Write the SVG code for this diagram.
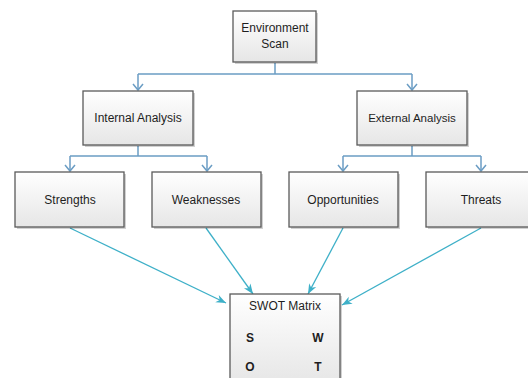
<svg xmlns="http://www.w3.org/2000/svg" width="528" height="378" viewBox="0 0 528 378">
<style>
.box{fill:url(#g);stroke:#5a5a5a;stroke-width:1.3}
.sh{fill:#000;opacity:0.18}
.t{font-family:"Liberation Sans",Arial,sans-serif;font-size:12px;fill:#1e1e1e;text-anchor:middle}
.b{font-weight:bold}
.tree{fill:none;stroke:#6b9dc4;stroke-width:1.5}
.diag{fill:none;stroke:#3eb0c8;stroke-width:1.3}
</style>
<defs>
<linearGradient id="g" x1="0" y1="0" x2="0" y2="1">
<stop offset="0" stop-color="#ffffff"/>
<stop offset="1" stop-color="#e6e6e6"/>
</linearGradient>
<marker id="v" markerWidth="12" markerHeight="14" viewBox="-8 -7 10 14" refX="0" refY="0" orient="auto" markerUnits="userSpaceOnUse">
<path d="M-6,-5 L0,0 L-6,5" fill="none" stroke="#6b9dc4" stroke-width="1.5"/>
</marker>
<marker id="a" markerWidth="12" markerHeight="12" viewBox="-11 -5 12 10" refX="0" refY="0" orient="auto" markerUnits="userSpaceOnUse">
<path d="M-10,-4 L0,0 L-10,4 L-7,0 Z" fill="#3eb0c8"/>
</marker>
</defs>
<g id="connectors">
<path class="tree" d="M275,63 V74 M138,74 H412"/>
<path class="tree" d="M138,74 V90" marker-end="url(#v)"/>
<path class="tree" d="M412,74 V90" marker-end="url(#v)"/>
<path class="tree" d="M138,146 V156 M70,156 H207 M343,156 H481 M412,146 V156"/>
<path class="tree" d="M70,156 V171" marker-end="url(#v)"/>
<path class="tree" d="M207,156 V171" marker-end="url(#v)"/>
<path class="tree" d="M343,156 V171" marker-end="url(#v)"/>
<path class="tree" d="M481,156 V171" marker-end="url(#v)"/>
<path class="diag" d="M70,228 L226,303" marker-end="url(#a)"/>
<path class="diag" d="M206,228 L253,294" marker-end="url(#a)"/>
<path class="diag" d="M343,228 L308,294" marker-end="url(#a)"/>
<path class="diag" d="M481,228 L342,305" marker-end="url(#a)"/>
</g>
<g id="env">
<rect class="sh" x="235" y="13" width="83" height="51"/>
<rect class="box" x="233" y="11" width="83" height="51"/>
<text class="t" x="275" y="32">Environment</text>
<text class="t" x="275" y="48">Scan</text>
</g>
<g id="internal">
<rect class="sh" x="85" y="93" width="110" height="54"/>
<rect class="box" x="83" y="91" width="110" height="54"/>
<text class="t" x="138" y="122">Internal Analysis</text>
</g>
<g id="external">
<rect class="sh" x="359" y="93" width="110" height="54"/>
<rect class="box" x="357" y="91" width="110" height="54"/>
<text class="t" x="412" y="122" style="font-size:11.5px">External Analysis</text>
</g>
<g id="strengths">
<rect class="sh" x="17" y="174" width="109" height="55"/>
<rect class="box" x="15" y="172" width="109" height="55"/>
<text class="t" x="70" y="204">Strengths</text>
</g>
<g id="weaknesses">
<rect class="sh" x="154" y="174" width="109" height="55"/>
<rect class="box" x="152" y="172" width="109" height="55"/>
<text class="t" x="206" y="204">Weaknesses</text>
</g>
<g id="opportunities">
<rect class="sh" x="291" y="174" width="109" height="55"/>
<rect class="box" x="289" y="172" width="109" height="55"/>
<text class="t" x="343" y="204">Opportunities</text>
</g>
<g id="threats">
<rect class="sh" x="428" y="174" width="110" height="55"/>
<rect class="box" x="426" y="172" width="110" height="55"/>
<text class="t" x="481" y="204">Threats</text>
</g>
<g id="swot">
<rect class="sh" x="232" y="296" width="110" height="90"/>
<rect class="box" x="230" y="294" width="110" height="90"/>
<text class="t" x="285" y="310">SWOT Matrix</text>
<text class="t b" x="250" y="342">S</text>
<text class="t b" x="318" y="342">W</text>
<text class="t b" x="250" y="371">O</text>
<text class="t b" x="318" y="371">T</text>
</g>
</svg>
